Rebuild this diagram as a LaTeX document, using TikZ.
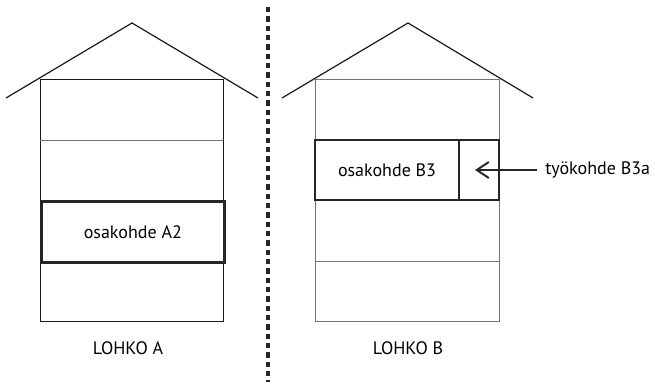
\documentclass[tikz,border=0pt]{standalone}
\usepackage{fontspec}
\setmainfont{PT Sans}
\usetikzlibrary{arrows.meta}
\begin{document}
\begin{tikzpicture}[x=0.75pt,y=-0.75pt,
  thinline/.style={line width=0.7pt,draw=black!90},
  grayline/.style={line width=0.7pt,draw=black!55},
  thickbox/.style={line width=2pt,draw=black!85},
  roofline/.style={line width=0.9pt,draw=black!90},
  lbl/.style={font=\fontsize{13.5}{15}\selectfont,inner sep=0pt}]
\useasboundingbox (0,0) rectangle (655,385);
% left house
\draw[roofline] (6,98) -- (132,23) -- (258,98);
\draw[thinline] (40,79) rectangle (223,321);
\draw[grayline] (40,140) -- (223,140);
\draw[thinline] (40,261) -- (223,261);
\node[thickbox,minimum width=183*0.75pt,minimum height=61*0.75pt,inner sep=0pt,anchor=north west] (a2) at (40,200) {};
\node[lbl] (ta2) at (a2.center) {osakohde A2};
\node[lbl] (lohkoa) at (128,348) {LOHKO A};
% divider
\draw[line width=2.4pt,dash pattern=on 4pt off 3pt,black!85] (268,7) -- (268,382);
% right house
\draw[roofline] (282,98) -- (408,23) -- (533,98);
\draw[grayline] (315,79) rectangle (499,321);
\draw[grayline] (315,261) -- (499,261);
\draw[thickbox] (315,140) rectangle (499,200);
\draw[thickbox] (459,140) -- (459,200);
\node[lbl] (tb3) at (387,170) {osakohde B3};
\coordinate (b3a) at (475,170);
\node[lbl,anchor=west] (tb3a) at (545,170) {työkohde B3a};
\draw[line width=1.8pt,black!85,-{Straight Barb[length=9pt,width=12pt,line width=1.5pt]}] (537,170) -- (b3a);
\node[lbl] (lohkob) at (408,348) {LOHKO B};
\end{tikzpicture}
\end{document}
